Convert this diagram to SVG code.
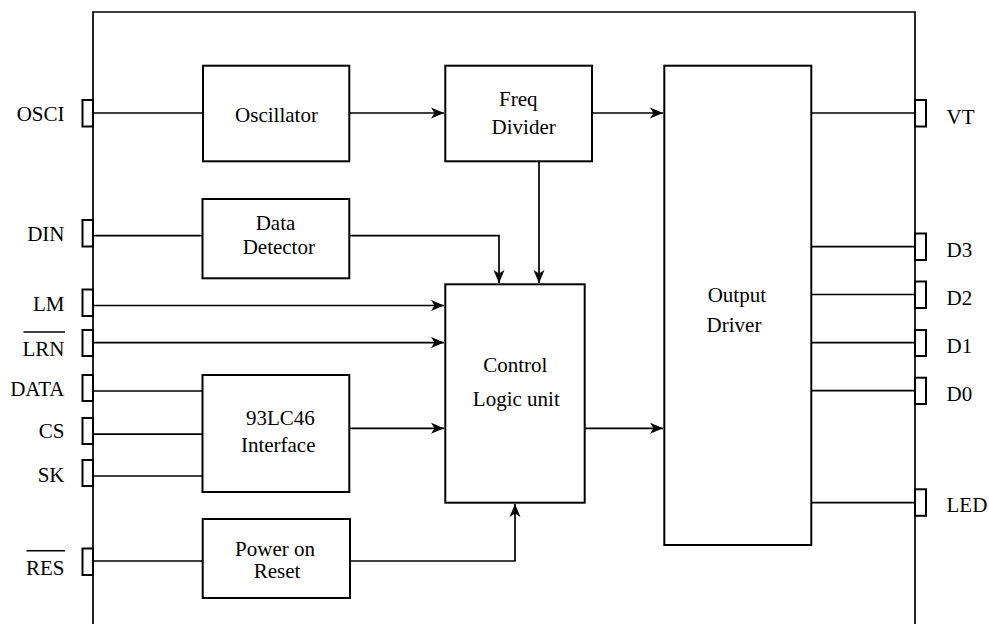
<svg xmlns="http://www.w3.org/2000/svg" width="989" height="624" viewBox="0 0 989 624">
<style>
.box{fill:#fff;stroke:#000;stroke-width:2}
.pin{fill:#fff;stroke:#000;stroke-width:2}
.w{fill:none;stroke:#000;stroke-width:1.7}
text{font-family:'Liberation Serif','Times New Roman','DejaVu Serif',serif;font-size:21px;fill:#000}
.c{text-anchor:middle}
.e{text-anchor:end}
.ol{stroke:#000;stroke-width:1.6}
</style>
<defs>
<marker id="arr" markerUnits="userSpaceOnUse" markerWidth="14" markerHeight="12" refX="13" refY="6" orient="auto">
<path d="M0,0.5 L13,6 L0,11.5 L3.5,6 Z" fill="#000"/>
</marker>
</defs>
<rect width="989" height="624" fill="#fff"/>
<g id="chip">
<path d="M93,624 V12 H915 V624" class="w" stroke-width="2"/>
</g>
<g id="connectors">
<path class="w" d="M93,113 H203"/>
<path class="w" d="M349,113 H444" marker-end="url(#arr)"/>
<path class="w" d="M592,113 H663" marker-end="url(#arr)"/>
<path class="w" d="M93,235.7 H203"/>
<path class="w" d="M349,235.7 H499 V283" marker-end="url(#arr)"/>
<path class="w" d="M539,161 V283" marker-end="url(#arr)"/>
<path class="w" d="M93,305.5 H444" marker-end="url(#arr)"/>
<path class="w" d="M93,342.6 H444" marker-end="url(#arr)"/>
<path class="w" d="M93,391 H203"/>
<path class="w" d="M93,434.2 H203"/>
<path class="w" d="M93,476 H203"/>
<path class="w" d="M349,428.3 H444" marker-end="url(#arr)"/>
<path class="w" d="M585,428.3 H663" marker-end="url(#arr)"/>
<path class="w" d="M93,561 H203"/>
<path class="w" d="M350,561 H515 V504" marker-end="url(#arr)"/>
<path class="w" d="M811,113 H915"/>
<path class="w" d="M811,246.7 H915"/>
<path class="w" d="M811,294.5 H915"/>
<path class="w" d="M811,342.7 H915"/>
<path class="w" d="M811,390.7 H915"/>
<path class="w" d="M811,502.7 H915"/>
</g>
<g id="pin-osci"><rect class="pin" x="82.5" y="100" width="10.5" height="26.5"/><text class="e" x="64.5" y="121">OSCI</text></g>
<g id="pin-din"><rect class="pin" x="82.5" y="220" width="10.5" height="26.5"/><text class="e" x="64.5" y="241">DIN</text></g>
<g id="pin-lm"><rect class="pin" x="82.5" y="289.5" width="10.5" height="26.5"/><text class="e" x="64.5" y="311">LM</text></g>
<g id="pin-lrn"><rect class="pin" x="82.5" y="330" width="10.5" height="26"/><text class="e" x="64.5" y="356">LRN</text><line class="ol" x1="23.5" y1="332" x2="65" y2="332"/></g>
<g id="pin-data"><rect class="pin" x="82.5" y="375" width="10.5" height="26"/><text class="e" x="64.5" y="395.5">DATA</text></g>
<g id="pin-cs"><rect class="pin" x="82.5" y="418" width="10.5" height="26"/><text class="e" x="64.5" y="438">CS</text></g>
<g id="pin-sk"><rect class="pin" x="82.5" y="460" width="10.5" height="26"/><text class="e" x="64.5" y="481.5">SK</text></g>
<g id="pin-res"><rect class="pin" x="82.5" y="548.5" width="10.5" height="26.5"/><text class="e" x="64.5" y="574.5">RES</text><line class="ol" x1="26.5" y1="550.7" x2="65" y2="550.7"/></g>
<g id="pin-vt"><rect class="pin" x="915" y="100" width="11" height="26.5"/><text x="946.5" y="124.3">VT</text></g>
<g id="pin-d3"><rect class="pin" x="915" y="233.5" width="11" height="26.5"/><text x="946.5" y="257">D3</text></g>
<g id="pin-d2"><rect class="pin" x="915" y="281.5" width="11" height="26.5"/><text x="946.5" y="305">D2</text></g>
<g id="pin-d1"><rect class="pin" x="915" y="330" width="11" height="26"/><text x="946.5" y="353.3">D1</text></g>
<g id="pin-d0"><rect class="pin" x="915" y="377.7" width="11" height="26.3"/><text x="946.5" y="401">D0</text></g>
<g id="pin-led"><rect class="pin" x="915" y="489.3" width="11" height="26.5"/><text x="946.5" y="512.3">LED</text></g>
<g id="oscillator"><rect class="box" x="203" y="65.7" width="146.3" height="95.6"/><text class="c" x="276.5" y="121.5">Oscillator</text></g>
<g id="freq-divider"><rect class="box" x="445.3" y="65.7" width="146.7" height="95.6"/><text class="c" x="518.3" y="105.7">Freq</text><text class="c" x="523.7" y="134.3">Divider</text></g>
<g id="data-detector"><rect class="box" x="202.5" y="199" width="146.8" height="79.3"/><text class="c" x="275.5" y="230">Data</text><text class="c" x="278.8" y="254">Detector</text></g>
<g id="control-logic"><rect class="box" x="445.3" y="284.3" width="139.4" height="218.4"/><text class="c" x="515.3" y="372">Control</text><text class="c" x="516.3" y="406">Logic unit</text></g>
<g id="interface"><rect class="box" x="202.5" y="375" width="146.8" height="117"/><text class="c" x="280.3" y="425">93LC46</text><text class="c" x="278.2" y="451.7">Interface</text></g>
<g id="power-on-reset"><rect class="box" x="202.7" y="519" width="147.3" height="79"/><text class="c" x="275" y="555.5">Power on</text><text class="c" x="277" y="577.5">Reset</text></g>
<g id="output-driver"><rect class="box" x="664.3" y="65.7" width="147" height="479.3"/><text class="c" x="736.8" y="301.7">Output</text><text class="c" x="734" y="331.7">Driver</text></g>
</svg>
